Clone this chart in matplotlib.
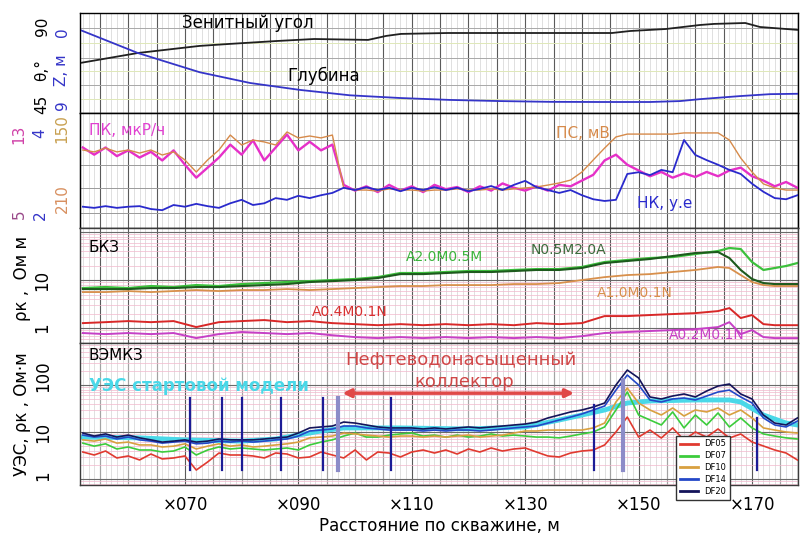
import matplotlib
matplotlib.use('Agg')
import matplotlib.pyplot as plt
from matplotlib.ticker import MultipleLocator, LogLocator, NullFormatter
from matplotlib.lines import Line2D

plt.rcParams['font.family'] = ['DejaVu Sans']

# ---------------- data ----------------
# distance along the well, m (log sampling)
dist = [52, 54, 56, 58, 60, 62, 64, 66, 68, 70, 72, 74, 76, 78, 80, 82,
        84, 86, 88, 90, 92, 94, 96, 98, 100, 102, 104, 106, 108, 110, 112,
        114, 116, 118, 120, 122, 124, 126, 128, 130, 132, 134, 136, 138, 140,
        142, 144, 146, 148, 150, 152, 154, 156, 158, 160, 162, 164, 166, 168,
        170, 172, 174, 176, 178]

# inclinometry
zen_x = [51.5, 61.7, 72.6, 77.9, 86.2, 92.8, 102.3, 105.5, 108.1, 116.4,
         129.3, 145.3, 148.5, 154.8, 160.8, 163.3, 168.8, 171.4, 178.1]
zenith = [67.5, 73.0, 76.9, 78.0, 79.6, 80.7, 80.2, 82.4, 83.5, 84.0,
          84.0, 84.0, 85.1, 86.2, 88.4, 89.0, 89.5, 87.3, 85.7]
depth_x = [51.5, 61.7, 72.6, 81.5, 90.3, 99.1, 107.9, 116.7, 125.6, 134.4,
           143.2, 152.0, 157.3, 160.8, 167.9, 173.2, 178.1]
depth = [0.2, 3.2, 5.7, 7.1, 8.0, 8.7, 9.05, 9.3, 9.45, 9.55,
         9.57, 9.57, 9.45, 9.2, 8.8, 8.55, 8.5]

# radioactive logging and SP
pk = [10.6, 10.1, 10.6, 10.0, 10.4, 9.9, 10.3, 9.7, 10.4, 9.4,
      8.5, 9.2, 9.9, 10.8, 10.1, 11.1, 9.7, 10.6, 11.5, 10.4,
      11.0, 10.4, 10.8, 8.0, 7.6, 7.9, 7.5, 8.0, 7.6, 7.9,
      7.5, 8.0, 7.7, 7.85, 7.5, 7.9, 7.6, 8.1, 7.8, 7.6,
      7.9, 7.6, 8.0, 7.9, 8.3, 8.7, 9.7, 10.1, 9.4, 9.0,
      8.6, 8.9, 8.5, 8.8, 8.55, 8.9, 8.6, 9.0, 9.2, 8.6,
      8.3, 7.9, 8.2, 7.8]
nk = [2.37, 2.35, 2.38, 2.35, 2.37, 2.38, 2.33, 2.31, 2.40, 2.37,
      2.42, 2.38, 2.35, 2.43, 2.49, 2.40, 2.43, 2.52, 2.49, 2.56,
      2.52, 2.57, 2.61, 2.70, 2.66, 2.71, 2.66, 2.70, 2.64, 2.70,
      2.66, 2.71, 2.66, 2.70, 2.64, 2.68, 2.73, 2.66, 2.75, 2.82,
      2.71, 2.66, 2.61, 2.66, 2.57, 2.50, 2.47, 2.49, 2.94, 2.97,
      2.92, 3.01, 2.97, 3.53, 3.27, 3.18, 3.10, 3.01, 2.94, 2.77,
      2.63, 2.52, 2.50, 2.57]
ps = [169.3, 170.3, 168.3, 170.3, 169.3, 170.9, 169.3, 171.9, 170.3, 174.5,
      180.8, 174.5, 169.3, 161.5, 166.7, 164.1, 165.1, 166.7, 159.9, 163.0,
      162.0, 163.0, 161.5, 189.1, 190.2, 190.2, 190.7, 189.6, 190.2, 190.2,
      190.7, 190.2, 190.2, 189.6, 190.2, 190.2, 189.6, 190.2, 189.6, 189.1,
      188.6, 187.6, 186.5, 185.0, 180.8, 174.5, 168.3, 162.5, 161.0, 161.0,
      161.0, 161.0, 161.0, 160.4, 160.4, 160.4, 160.4, 164.1, 173.5, 180.8,
      187.0, 189.1, 190.2, 190.2]

# lateral logging sounding (BKZ)
bkz_x = [52, 56, 60, 64, 68, 72, 76, 80, 84, 88, 92, 96, 100, 104, 108, 112,
         116, 120, 124, 128, 132, 136, 140, 144, 148, 152, 156, 160, 164, 166,
         168, 170, 172, 174, 176, 178]
a20m05m = [6.81, 7.15, 6.81, 7.5, 7.15, 7.86, 7.5, 8.25, 8.66, 9.1,
           9.5, 10.0, 10.5, 11.5, 14.0, 14.0, 14.7, 15.4, 15.4, 16.2,
           16.9, 16.9, 18.7, 23.7, 26.1, 28.7, 30.1, 34.8, 40.2, 46.4,
           44.2, 23.7, 16.2, 17.8, 19.6, 22.6]
n05m20a = [6.49, 6.49, 6.49, 6.81, 6.81, 7.15, 7.15, 7.5, 7.86, 8.25,
           9.1, 9.5, 10.0, 11.0, 13.3, 13.3, 14.0, 14.7, 14.7, 15.4,
           16.2, 16.2, 17.8, 22.6, 24.9, 27.4, 31.6, 36.5, 38.3, 28.7,
           16.2, 10.5, 8.66, 8.25, 8.25, 8.25]
a10m01n = [5.62, 5.62, 5.9, 5.62, 5.9, 6.19, 5.9, 6.19, 6.19, 6.49,
           6.19, 6.49, 6.81, 7.15, 7.5, 7.5, 7.86, 7.86, 7.86, 8.25,
           8.25, 8.66, 10.0, 11.5, 12.7, 13.3, 14.7, 16.2, 18.7, 17.8,
           12.7, 9.1, 7.86, 7.5, 7.5, 7.5]
a04m01n = [1.27, 1.33, 1.40, 1.33, 1.40, 1.05, 1.33, 1.40, 1.47, 1.33,
           1.40, 1.27, 1.21, 1.15, 1.21, 1.15, 1.21, 1.15, 1.21, 1.15,
           1.27, 1.21, 1.27, 1.78, 1.78, 1.87, 1.96, 2.05, 2.26, 2.61,
           1.62, 1.87, 1.21, 1.15, 1.15, 1.15]
a02m01n = [0.79, 0.75, 0.79, 0.75, 0.79, 0.62, 0.75, 0.83, 0.79, 0.75,
           0.79, 0.71, 0.65, 0.62, 0.65, 0.62, 0.65, 0.62, 0.65, 0.62,
           0.65, 0.62, 0.68, 0.79, 0.83, 0.87, 0.91, 0.95, 1.05, 1.33,
           0.75, 0.91, 0.65, 0.62, 0.62, 0.62]

# electromagnetic sounding (VEMKZ), apparent resistivity
df05 = [3.75, 3.24, 3.94, 2.8, 3.09, 2.54, 3.4, 2.67, 2.8, 3.09,
        1.55, 2.3, 3.57, 3.24, 3.24, 3.09, 2.8, 3.57, 3.4, 2.8,
        2.94, 3.75, 3.24, 2.8, 4.14, 2.54, 3.75, 3.57, 2.94, 3.75,
        4.14, 3.57, 4.14, 3.4, 4.35, 3.75, 4.57, 3.94, 4.35, 4.57,
        3.75, 3.09, 2.94, 3.57, 3.94, 4.14, 5.3, 10.0, 20.8, 7.8,
        11.0, 7.45, 12.2, 6.76, 10.0, 7.8, 11.6, 7.45, 9.06, 6.13,
        5.04, 4.14, 3.57, 2.54]
df07 = [5.8, 5.0, 5.6, 4.35, 4.8, 4.14, 4.14, 3.75, 3.94, 4.8,
        3.24, 4.14, 4.8, 4.35, 4.57, 4.35, 4.14, 4.35, 4.57, 4.14,
        5.3, 6.1, 6.8, 8.2, 9.5, 7.8, 7.8, 8.6, 9.1, 9.5,
        8.2, 8.6, 7.8, 8.6, 7.8, 8.2, 9.1, 8.2, 8.6, 8.2,
        7.8, 7.8, 7.5, 8.2, 9.1, 10.0, 12.8, 29.4, 71.0, 23.0,
        18.0, 14.1, 26.7, 12.2, 23.0, 14.1, 25.4, 12.8, 19.9, 12.2,
        9.1, 8.2, 7.5, 7.1]
df10 = [6.8, 6.4, 7.1, 5.8, 6.1, 5.3, 5.3, 4.8, 5.0, 5.6,
        4.35, 5.0, 5.6, 5.0, 5.3, 4.8, 5.0, 5.3, 5.6, 6.1,
        7.5, 7.8, 8.2, 9.5, 9.1, 8.6, 8.2, 7.8, 8.2, 8.2,
        7.8, 8.2, 7.8, 8.2, 8.6, 7.8, 8.2, 8.6, 9.5, 10.5,
        10.5, 11.0, 11.0, 11.0, 11.0, 12.2, 15.5, 43.5, 86.0, 41.4,
        29.4, 23.0, 32.4, 21.9, 29.4, 26.7, 32.4, 23.0, 29.4, 19.9,
        12.2, 11.0, 10.0, 9.5]
df14 = [8.6, 7.8, 8.2, 7.1, 7.8, 6.8, 6.4, 5.8, 6.1, 6.4,
        5.6, 5.8, 6.4, 6.1, 6.4, 6.1, 6.4, 6.8, 7.1, 8.2,
        10.5, 11.0, 11.6, 13.4, 13.4, 12.2, 11.6, 11.0, 11.0, 11.0,
        10.5, 11.0, 10.5, 11.0, 11.0, 10.5, 11.0, 11.6, 12.2, 12.8,
        13.4, 15.5, 18.0, 20.8, 24.2, 29.4, 35.7, 78.0, 163.0, 100.0,
        48.0, 43.5, 50.4, 52.9, 48.0, 58.3, 71.0, 78.0, 55.6, 41.4,
        19.9, 14.1, 12.8, 17.1]
df20 = [9.5, 8.2, 9.1, 7.8, 8.6, 7.5, 6.8, 6.1, 6.4, 6.8,
        6.1, 6.4, 7.1, 6.8, 6.8, 6.8, 7.1, 7.5, 7.8, 9.5,
        12.2, 12.8, 13.4, 16.3, 15.5, 14.1, 12.8, 12.2, 12.2, 12.2,
        11.6, 12.2, 11.6, 12.2, 12.8, 12.2, 12.8, 13.4, 14.1, 14.8,
        16.3, 19.9, 23.0, 26.7, 29.4, 34.0, 41.4, 100.0, 208.0, 141.0,
        55.6, 50.4, 58.3, 64.4, 55.6, 74.5, 95.0, 105.0, 64.4, 50.4,
        23.0, 15.5, 14.1, 19.9]

# resistivity of the starting model
start_x = [52, 62, 70, 80, 86, 90, 94, 98, 108, 120, 130, 136, 140, 144,
           148, 152, 160, 166, 168, 172, 176, 178]
start_model = [7.8, 7.5, 6.8, 6.4, 7.1, 8.6, 10.5, 12.2, 12.2, 11.6, 12.8,
               18.0, 23.0, 29.4, 41.4, 45.7, 48.0, 48.0, 43.5, 23.0, 15.5, 14.1]

# marker lines in the VEMKZ track
mark_x = [70.9, 76.5, 80.1, 86.9, 94.3, 97.0, 106.3, 142.1, 147.2, 170.9]
mark_top = [52.9, 52.9, 52.9, 52.9, 52.9, 52.9, 52.9, 37.5, 128.0, 19.9]
mark_bottom = 1.55
mark_pale = [False, False, False, False, False, True, False, False, True, False]

# reservoir interval
res_x0, res_x1, res_level = 97.3, 139.1, 67.0

x_ticks = [70, 90, 110, 130, 150, 170]
x_tick_labels = ['×070', '×090', '×110', '×130', '×150', '×170']

# ---------------- layout ----------------
W_PX, H_PX = 801, 536
fig = plt.figure(figsize=(W_PX / 100, H_PX / 100), dpi=100)
fig.patch.set_facecolor('white')
X0, X1 = 80, 798


def panel(top, bottom):
    return fig.add_axes([X0 / W_PX, 1 - bottom / H_PX,
                         (X1 - X0) / W_PX, (bottom - top) / H_PX])


def style(ax):
    ax.set_xlim(51.5, 178.1)
    ax.xaxis.set_major_locator(MultipleLocator(5))
    ax.xaxis.set_minor_locator(MultipleLocator(1))
    ax.grid(which='major', axis='x', color='#5a5a5a', lw=0.8)
    ax.grid(which='minor', axis='x', color='#cfcfcf', lw=0.45)
    ax.tick_params(which='both', length=0, labelbottom=False, labelleft=False)
    ax.set_axisbelow(True)
    for s in ax.spines.values():
        s.set_color('#3c3c3c')
        s.set_linewidth(1.0)


def hgrid(ax, fracs, color, lw=0.7):
    for f in fracs:
        ax.plot([0, 1], [f, f], transform=ax.transAxes, color=color,
                lw=lw, zorder=0.6)


def log_grid(ax):
    ax.set_yscale('log')
    ax.yaxis.set_major_locator(LogLocator(base=10))
    ax.yaxis.set_minor_locator(LogLocator(base=10, subs=range(2, 10)))
    ax.yaxis.set_minor_formatter(NullFormatter())
    ax.grid(which='major', axis='y', color='#6a6a6a', lw=0.8)
    ax.grid(which='minor', axis='y', color='#f2b8cc', lw=0.5)


def side(x, y, s, **kw):
    fig.text(x / W_PX, 1 - y / H_PX, s, rotation=90, ha='center',
             va='center', **kw)


# ---- track 1: zenith angle and depth ----
ax1 = panel(13, 113)
style(ax1)
hgrid(ax1, [0.85, 0.55, 0.28], '#a8a8a8')
hgrid(ax1, [0.70, 0.42, 0.14], '#dfe8b8')
ax1.set_ylim(40, 95)
ax1.plot(zen_x, zenith, color='#202020', lw=1.3)
ax1b = ax1.twinx()
ax1b.set_ylim(11, -2)
ax1b.plot(depth_x, depth, color='#3535c8', lw=1.3)
ax1b.tick_params(length=0, labelright=False)
ax1.text(0.234, 0.9, 'Зенитный угол', transform=ax1.transAxes,
         ha='center', va='center', fontsize=12)
ax1.text(0.34, 0.37, 'Глубина', transform=ax1.transAxes,
         ha='center', va='center', fontsize=12)

# ---- track 2: gamma, neutron, SP ----
ax2 = panel(113, 228)
style(ax2)
hgrid(ax2, [0.765, 0.548, 0.348, 0.13], '#9a9a9a')
ax2.set_ylim(5, 13)
ax2c = ax2.twinx()
ax2c.set_ylim(210, 150)
ax2c.plot(dist, ps, color='#d68a4a', lw=1.0)
ax2c.tick_params(length=0, labelright=False)
ax2.plot(dist, pk, color='#e630c8', lw=1.7, zorder=3)
ax2b = ax2.twinx()
ax2b.set_ylim(2, 4)
ax2b.plot(dist, nk, color='#2a2acc', lw=1.3)
ax2b.tick_params(length=0, labelright=False)
ax2.text(0.012, 0.85, 'ПК, мкР/ч', transform=ax2.transAxes, ha='left',
         va='center', fontsize=11, color='#e040d0')
ax2.text(0.70, 0.825, 'ПС, мВ', transform=ax2.transAxes, ha='center',
         va='center', fontsize=11, color='#d68a4a')
ax2.text(0.815, 0.21, 'НК, у.е', transform=ax2.transAxes, ha='center',
         va='center', fontsize=11, color='#2a2acc')

# ---- track 3: BKZ ----
ax3 = panel(228, 343)
style(ax3)
log_grid(ax3)
ax3.set_ylim(0.49, 121)
ax3.plot(bkz_x, a10m01n, color='#d8904c', lw=1.3)
ax3.plot(bkz_x, a20m05m, color='#3cc03c', lw=1.6)
ax3.plot(bkz_x, n05m20a, color='#1d5a1d', lw=1.5)
ax3.plot(bkz_x, a04m01n, color='#d82828', lw=1.4)
ax3.plot(bkz_x, a02m01n, color='#c640c6', lw=1.4)
ax3.text(0.012, 0.83, 'БКЗ', transform=ax3.transAxes, ha='left',
         va='center', fontsize=11)
for tx, ty, s, c in [(0.508, 0.75, 'A2.0M0.5M', '#3cb43c'),
                     (0.68, 0.81, 'N0.5M2.0A', '#3c6a3c'),
                     (0.773, 0.435, 'A1.0M0.1N', '#d8904c'),
                     (0.376, 0.27, 'A0.4M0.1N', '#d83030'),
                     (0.873, 0.07, 'A0.2M0.1N', '#c640c6')]:
    ax3.text(tx, ty, s, transform=ax3.transAxes, ha='center', va='center',
             fontsize=10, color=c)

# ---- track 4: VEMKZ ----
ax4 = panel(343, 485)
style(ax4)
log_grid(ax4)
ax4.set_ylim(0.745, 783)
ax4.plot(start_x, start_model, color='#4ad8e8', lw=3.5, zorder=2)
curves = [(df05, '#e03a30', 'DF05'), (df07, '#3ccc3c', 'DF07'),
          (df10, '#d8a040', 'DF10'), (df14, '#2448c8', 'DF14'),
          (df20, '#14145a', 'DF20')]
for vals, c, name in curves:
    ax4.plot(dist, vals, color=c, lw=1.2, zorder=3)
for mx, mt, pale in zip(mark_x, mark_top, mark_pale):
    ax4.plot([mx, mx], [mark_bottom, mt], color='#8c8cc8' if pale else '#1c1c96',
             lw=3.0 if pale else 1.6, zorder=4)
ax4.annotate('', xy=(res_x1, res_level), xytext=(res_x0, res_level),
             arrowprops=dict(arrowstyle='<|-|>', color='#e04848', lw=2.5,
                             mutation_scale=12), zorder=5)
ax4.text(0.53, 0.88, 'Нефтеводонасыщенный', transform=ax4.transAxes,
         ha='center', va='center', fontsize=13, color='#d04848')
ax4.text(0.535, 0.725, 'коллектор', transform=ax4.transAxes,
         ha='center', va='center', fontsize=13, color='#d04848')
ax4.text(0.012, 0.915, 'ВЭМКЗ', transform=ax4.transAxes, ha='left',
         va='center', fontsize=11)
ax4.text(0.012, 0.70, 'УЭС стартовой модели', transform=ax4.transAxes,
         ha='left', va='center', fontsize=12, fontweight='bold', color='#4ad8e8')

# bottom axis labels
ax4.set_xticks(x_ticks)
ax4.set_xticklabels(x_tick_labels, fontsize=12)
ax4.xaxis.set_minor_locator(MultipleLocator(1))
ax4.tick_params(axis='x', which='major', labelbottom=True, pad=8)
ax4.set_xlabel('Расстояние по скважине, м', fontsize=12, labelpad=2)
for v in range(55, 178, 5):
    if v not in x_ticks:
        ax4.axvline(v, color='#5a5a5a', lw=0.8, zorder=0.5)

handles = [Line2D([], [], color=c, lw=2.0) for _, c, _ in curves]
leg = ax4.legend(handles, [n for _, _, n in curves], loc='upper left',
                 bbox_to_anchor=(672 / W_PX, 1 - 432 / H_PX),
                 bbox_transform=fig.transFigure, fontsize=6, frameon=True,
                 fancybox=False, edgecolor='#333333', framealpha=1,
                 handlelength=2.2, labelspacing=0.35, borderpad=0.4)
leg.set_zorder(10)

# ---- rotated scale captions at the left ----
side(42, 104, '45', fontsize=11)
side(42, 70, 'θ,°', fontsize=11)
side(42, 26, '90', fontsize=11)
side(62, 105, '9', fontsize=11, color='#3535c8')
side(62, 70, 'Z, м', fontsize=11, color='#3535c8')
side(62, 32, '0', fontsize=11, color='#3535c8')

side(19, 134, '13', fontsize=11, color='#d040a8')
side(19, 214, '5', fontsize=11, color='#9a4a8a')
side(40, 133, '4', fontsize=11, color='#3535c8')
side(40, 215, '2', fontsize=11, color='#3535c8')
side(62, 129, '150', fontsize=11, color='#c8a050')
side(62, 199, '210', fontsize=11, color='#d89060')

side(22, 278, 'ρк ,  Ом м', fontsize=12)
side(42, 280, '10', fontsize=12)
side(42, 328, '1', fontsize=12)

side(22, 414, 'УЭС, ρк , Ом·м', fontsize=12)
side(43, 376, '100', fontsize=12)
side(43, 432, '10', fontsize=12)
side(43, 476, '1', fontsize=12)

fig.savefig('out.png', dpi=100, facecolor='white')
